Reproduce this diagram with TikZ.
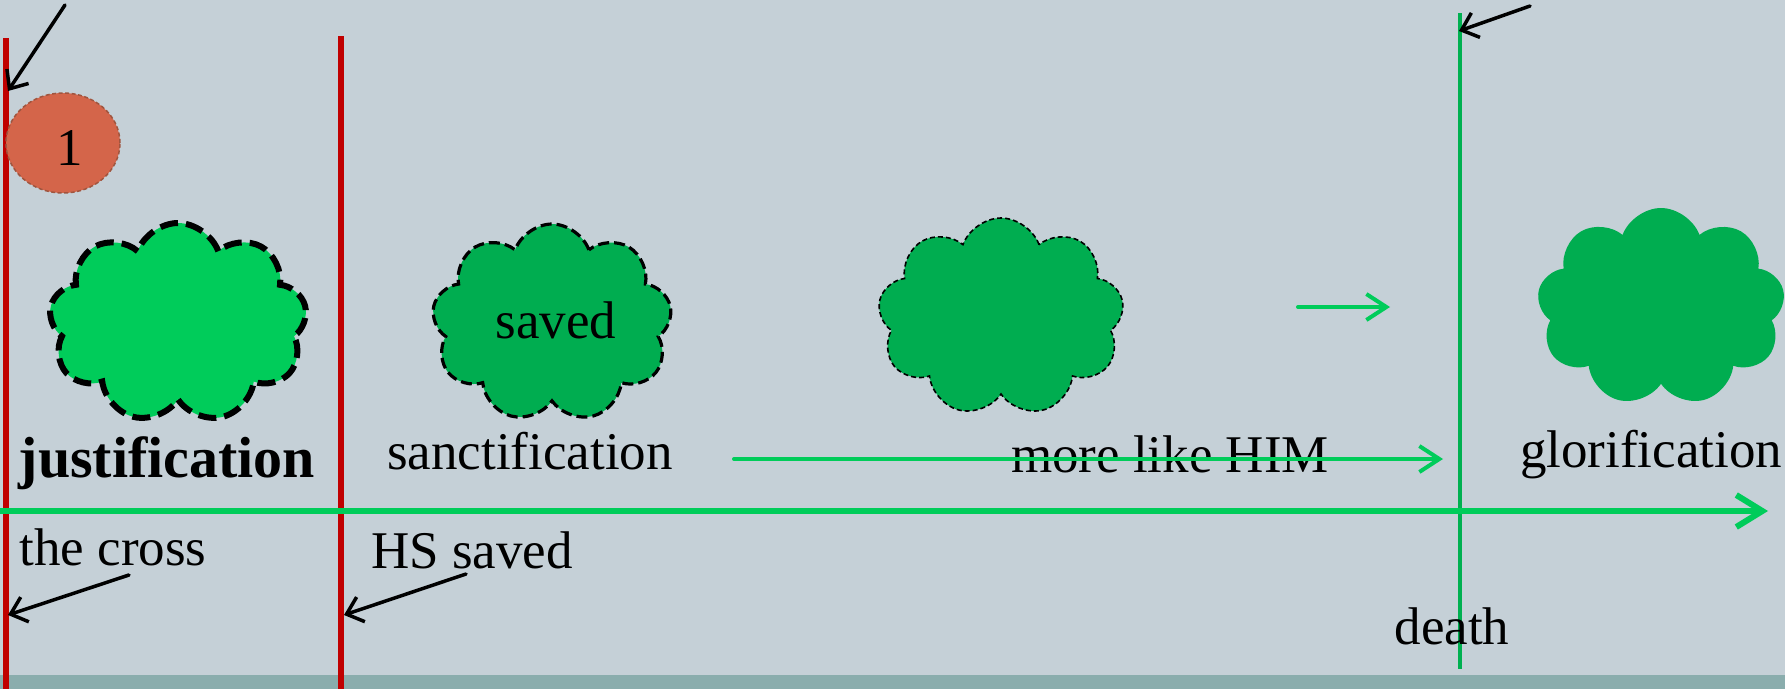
\documentclass[tikz,border=0pt]{standalone}
\usepackage{fontspec}
\setmainfont{Liberation Serif}
\usetikzlibrary{arrows.meta,shapes.symbols,shapes.geometric}
\definecolor{bg}{HTML}{C5D0D7}
\definecolor{band}{HTML}{8AADAD}
\definecolor{brgreen}{HTML}{00CC5A}
\definecolor{dkgreen}{HTML}{00AD50}
\definecolor{vgreen}{HTML}{00B050}
\definecolor{redl}{HTML}{C00000}
\definecolor{ellfill}{HTML}{D4654A}
\definecolor{elldraw}{HTML}{A0553F}
\tikzset{
  redline/.style={draw=redl, line width=6pt},
  greenvert/.style={draw=vgreen, line width=4pt},
  blackarrow/.style={draw=black, line width=3.5pt, line cap=round, -{Straight Barb[length=15pt,width=26pt,line width=3.5pt]}},
  greenarrow/.style={draw=brgreen, line width=4pt, line cap=round, -{Straight Barb[length=20pt,width=26pt,line width=4pt]}},
  mainarrow/.style={draw=brgreen, line width=6pt, line cap=round, -{Straight Barb[length=26pt,width=32pt,line width=6pt]}},
  lbl/.style={inner sep=0pt, anchor=base, font=\fontsize{53}{60}\selectfont},
  blbl/.style={inner sep=0pt, anchor=base, font=\fontsize{58}{64}\selectfont\bfseries},
  cloudbase/.style={cloud, cloud puffs=9, cloud puff arc=140, inner sep=0pt, aspect=1.2},
}
\begin{document}
\begin{tikzpicture}[x=1pt,y=-1pt]
\useasboundingbox (0,0) rectangle (1785,689);
\fill[bg] (0,0) rectangle (1785,689);
\fill[band] (0,675) rectangle (1785,689);

% vertical lines
\coordinate (r1t) at (6,38);
\coordinate (r1b) at (6,689);
\coordinate (r2t) at (341,36);
\coordinate (r2b) at (341,689);
\coordinate (gvt) at (1460,13);
\coordinate (gvb) at (1460,669);
\draw[redline] (r1t) -- (r1b);
\draw[redline] (r2t) -- (r2b);
\draw[greenvert] (gvt) -- (gvb);

% ellipse
\node[ellipse, draw=elldraw, fill=ellfill, line width=1.5pt, dash pattern=on 4pt off 2.5pt,
      minimum width=114pt, minimum height=100pt, inner sep=0pt] (one) at (63,143) {};
\node[lbl, font=\fontsize{53}{60}\selectfont] (onet) at (70,165) {1};

% clouds
\node[cloudbase, fill=brgreen, draw=black, line width=6pt, dash pattern=on 18pt off 8pt,
      minimum width=258pt, minimum height=200pt] (c1) at (178,323) {};
\node[cloudbase, fill=dkgreen, draw=black, line width=3.2pt, dash pattern=on 11pt off 5pt,
      minimum width=240pt, minimum height=198pt] (c2) at (552,323) {};
\node[cloudbase, fill=dkgreen, draw=black, line width=1.6pt, dash pattern=on 5pt off 3pt,
      minimum width=246pt, minimum height=198pt] (c3) at (1001,317) {};
\node[cloudbase, fill=dkgreen, minimum width=248pt, minimum height=198pt] (c4) at (1661,307) {};

% texts
\node[lbl] (saved) at (556,338) {saved};
\node[blbl] (just) at (167,477) {justification};
\node[lbl] (sanct) at (530,469) {sanctification};
\node[lbl] (more) at (1170,472) {more like HIM};
\node[lbl] (glor) at (1651,467) {glorification};
\node[lbl] (cross) at (113,565) {the cross};
\node[lbl] (hs) at (472,568) {HS saved};
\node[lbl] (death) at (1452,644) {death};

% green arrows
\coordinate (ms) at (0,511);
\coordinate (me) at (1768,511);
\draw[mainarrow] (ms) -- (me);
\coordinate (ss) at (1298,307);
\coordinate (se) at (1390,307);
\draw[greenarrow] (ss) -- (se);
\coordinate (hs1) at (734,459);
\coordinate (he1) at (1443,459);
\draw[greenarrow] (hs1) -- (he1);

% black arrows
\coordinate (a1s) at (65,5);
\coordinate (a1e) at (8,91);
\draw[blackarrow] (a1s) -- (a1e);
\coordinate (a2s) at (1530,6);
\coordinate (a2e) at (1459,31);
\draw[blackarrow] (a2s) -- (a2e);
\coordinate (a3s) at (129,575);
\coordinate (a3e) at (8,615);
\draw[blackarrow] (a3s) -- (a3e);
\coordinate (a4s) at (466,574);
\coordinate (a4e) at (344,615);
\draw[blackarrow] (a4s) -- (a4e);
\end{tikzpicture}
\end{document}
